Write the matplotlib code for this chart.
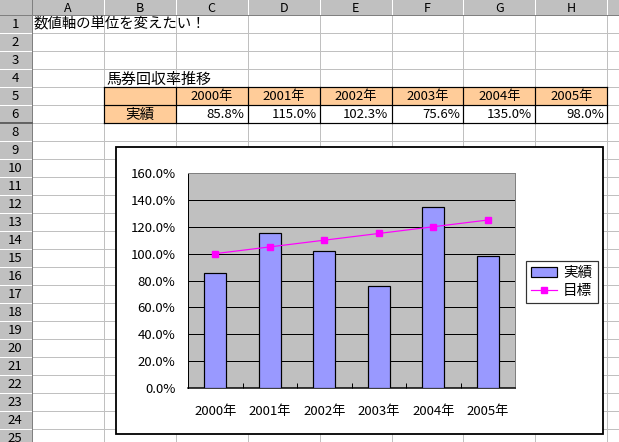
import matplotlib
matplotlib.use("Agg")
import matplotlib.pyplot as plt
from matplotlib.patches import Rectangle
import numpy as np

plt.rcParams['font.family'] = ['Noto Sans CJK JP', 'DejaVu Sans']

# ---- data ----
years = ['2000年', '2001年', '2002年', '2003年', '2004年', '2005年']
actual = [85.8, 115.0, 102.3, 75.6, 135.0, 98.0]      # 実績 (%)
target = [100.0, 105.0, 110.0, 115.0, 120.0, 125.0]   # 目標 (%)
sheet_title = '数値軸の単位を変えたい！'
table_title = '馬券回収率推移'
row_label = '実績'
col_letters = ['A', 'B', 'C', 'D', 'E', 'F', 'G', 'H']
row_numbers = [1, 2, 3, 4, 5, 6, 8, 9, 10, 11, 12, 13, 14, 15, 16, 17,
               18, 19, 20, 21, 22, 23, 24, 25]
yticks = [0, 20, 40, 60, 80, 100, 120, 140, 160]

W, H = 619, 442
fig = plt.figure(figsize=(W / 100, H / 100), dpi=100)
PX = 0.72  # one pixel in points

# ---- spreadsheet background ----
bg = fig.add_axes([0, 0, 1, 1])
bg.set_xlim(0, W)
bg.set_ylim(H, 0)
bg.axis('off')

hdr_h = 15
rh_w = 32
col_edges = [rh_w + 71.9 * i for i in range(10)]
row_tops = [hdr_h + 18 * i for i in range(len(row_numbers) + 1)]

grid_c = '#c0c0c0'
for x in col_edges[1:]:
    bg.plot([x, x], [hdr_h, H], color=grid_c, lw=PX, zorder=1)
for y in row_tops[1:]:
    bg.plot([rh_w, W], [y, y], color=grid_c, lw=PX, zorder=1)

# headers
bg.add_patch(Rectangle((0, 0), W, hdr_h, facecolor='#c0c0c0', edgecolor='none', zorder=2))
bg.add_patch(Rectangle((0, 0), rh_w, H, facecolor='#c0c0c0', edgecolor='none', zorder=2))
for x in col_edges[1:]:
    bg.plot([x, x], [0, hdr_h], color='#ffffff', lw=PX, zorder=3)
for y in row_tops[1:]:
    bg.plot([0, rh_w], [y, y], color='#ffffff', lw=PX, zorder=3)
bg.plot([rh_w, rh_w], [0, H], color='#808080', lw=PX, zorder=3)
bg.plot([0, W], [hdr_h, hdr_h], color='#808080', lw=PX, zorder=3)
# hidden row 7 marker line
bg.plot([0, rh_w], [row_tops[6], row_tops[6]], color='#606060', lw=1.4, zorder=3)

for i, c in enumerate(col_letters):
    cx = (col_edges[i] + col_edges[i + 1]) / 2
    bg.text(cx, hdr_h / 2 + 0.5, c, ha='center', va='center', fontsize=9, zorder=4)
for i, r in enumerate(row_numbers):
    cy = (row_tops[i] + row_tops[i + 1]) / 2
    bg.text(rh_w / 2 - 1, cy + 0.5, str(r), ha='center', va='center', fontsize=9.5, zorder=4)

# row 1 title and row 4 title
bg.text(34, (row_tops[0] + row_tops[1]) / 2 + 0.5, sheet_title, ha='left', va='center',
        fontsize=10.4, zorder=4)
bg.text(col_edges[1] + 3, (row_tops[3] + row_tops[4]) / 2 + 1.5, table_title, ha='left',
        va='center', fontsize=10.8, zorder=4)

# table rows 5-6
orange = '#ffcc99'
y5, y6, y7 = row_tops[4], row_tops[5], row_tops[6]
xB = col_edges[1]
xs = col_edges[1:9]
bg.add_patch(Rectangle((xB, y5), xs[-1] - xB, y6 - y5, facecolor=orange, edgecolor='none', zorder=2))
bg.add_patch(Rectangle((xB, y6), xs[1] - xB, y7 - y6, facecolor=orange, edgecolor='none', zorder=2))
bg.add_patch(Rectangle((xs[1], y6), xs[-1] - xs[1], y7 - y6, facecolor='white', edgecolor='none', zorder=2))
for x in xs:
    bg.plot([x, x], [y5, y7], color='black', lw=PX * 1.2, zorder=3)
for y in (y5, y6, y7):
    bg.plot([xB, xs[-1]], [y, y], color='black', lw=PX * 1.2, zorder=3)
bg.text((xs[0] + xs[1]) / 2, (y6 + y7) / 2 + 0.5, row_label, ha='center', va='center',
        fontsize=10.5, zorder=4)
for i, (yr, v) in enumerate(zip(years, actual)):
    cx = (xs[i + 1] + xs[i + 2]) / 2
    bg.text(cx, (y5 + y6) / 2 + 0.5, yr, ha='center', va='center', fontsize=9.5, zorder=4)
    bg.text(xs[i + 2] - 3, (y6 + y7) / 2 + 0.5, f'{v:.1f}%', ha='right', va='center',
            fontsize=9.5, zorder=4)

# chart box
bg.add_patch(Rectangle((116, 147), 603 - 116, 434 - 147, facecolor='white',
                       edgecolor='black', lw=1.3, zorder=5))

# ---- chart ----
L, R, T, B = 188, 515, 173, 388
ax = fig.add_axes([L / W, 1 - B / H, (R - L) / W, (B - T) / H])
ax.set_facecolor('#c0c0c0')
x = np.arange(len(years))
bars = ax.bar(x, np.array(actual) / 100, width=0.4, color='#9999ff', edgecolor='black',
              lw=PX * 1.2, zorder=3, label='実績')
line, = ax.plot(x, np.array(target) / 100, color='#ff00ff', lw=PX * 1.2, marker='s',
                ms=4.3, mec='#ff00ff', mfc='#ff00ff', zorder=4, label='目標')
ax.set_xlim(-0.5, len(years) - 0.5)
ax.set_ylim(0, 1.6)
ax.set_yticks([v / 100 for v in yticks])
ax.set_yticklabels([f'{v:.1f}%' for v in yticks], fontsize=9.5)
ax.set_xticks(x)
ax.set_xticklabels(years, fontsize=9.5)
ax.set_xticks(np.arange(len(years) + 1) - 0.5, minor=True)
ax.tick_params(axis='x', which='major', length=0, pad=12)
ax.tick_params(axis='x', which='minor', direction='in', length=3.5, width=PX)
ax.tick_params(axis='y', length=0, pad=9)
ax.set_axisbelow(True)
ax.yaxis.grid(True, color='black', lw=PX)
for s in ('top', 'right'):
    ax.spines[s].set_color('#808080')
    ax.spines[s].set_linewidth(PX)
for s in ('left', 'bottom'):
    ax.spines[s].set_color('black')
ax.spines['left'].set_linewidth(PX)
ax.spines['bottom'].set_linewidth(PX * 1.5)

leg = ax.legend(handles=[bars, line], loc='upper left',
                bbox_to_anchor=(526 / W, 1 - 261 / H), bbox_transform=fig.transFigure,
                borderaxespad=0, fancybox=False, frameon=True, edgecolor='black',
                fontsize=10.5, handlelength=1.8, handleheight=0.6, labelspacing=0.25,
                borderpad=0.35, handletextpad=0.4)
leg.get_frame().set_linewidth(PX * 1.2)

fig.savefig('out.png', dpi=100)
